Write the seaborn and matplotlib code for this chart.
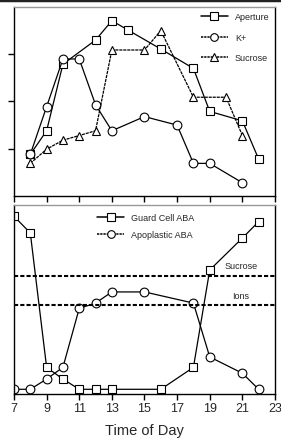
import matplotlib
matplotlib.use("Agg")
import matplotlib.pyplot as plt
import seaborn as sns
from matplotlib.lines import Line2D

# top panel data (arbitrary units)
ap_hours = [8, 9, 10, 12, 13, 14, 16, 18, 19, 21, 22]
aperture = [0.88, 1.38, 2.79, 3.30, 3.71, 3.51, 3.11, 2.70, 1.79, 1.59, 0.78]

k_hours = [8, 9, 10, 11, 12, 13, 15, 17, 18, 19, 21]
k_plus = [0.88, 1.89, 2.90, 2.90, 1.93, 1.38, 1.68, 1.50, 0.69, 0.69, 0.28]

suc_hours = [8, 9, 10, 11, 12, 13, 15, 16, 18, 20, 21]
sucrose = [0.69, 0.99, 1.18, 1.28, 1.38, 3.09, 3.09, 3.50, 2.09, 2.09, 1.28]

# bottom panel data
gc_hours = [7, 8, 9, 10, 11, 12, 13, 16, 18, 19, 21, 22]
guard_aba = [94.0, 85.2, 14.1, 7.9, 2.5, 2.5, 2.5, 2.5, 14.1, 65.6, 82.5, 91.2]

apo_hours = [7, 8, 9, 10, 11, 12, 13, 15, 18, 19, 21, 22]
apo_aba = [2.5, 2.5, 7.9, 14.1, 45.3, 48.1, 54.0, 54.0, 48.1, 19.6, 11.0, 2.5]

thresholds = {"Sucrose": 62.4, "Ions": 46.9}
xticks = [7, 9, 11, 13, 15, 17, 19, 21, 23]

sns.set_style("ticks")
plt.rcParams['font.family'] = ['Liberation Sans', 'DejaVu Sans']

fig = plt.figure(figsize=(2.81, 4.39), dpi=100)
ax1 = fig.add_axes([0.0498, 0.5513, 0.9288, 0.4305])
ax2 = fig.add_axes([0.0498, 0.1002, 0.9288, 0.4306])

mk = dict(markersize=6.3, markerfacecolor='white', markeredgecolor='black',
          markeredgewidth=0.8, color='black', linewidth=0.9)
dash_suc = (0, (2.5, 0.7))
dash_leg = (0, (1.5, 0.6))

sns.lineplot(x=ap_hours, y=aperture, ax=ax1, marker='s', **mk)
sns.lineplot(x=k_hours, y=k_plus, ax=ax1, marker='o', **mk)
sns.lineplot(x=suc_hours, y=sucrose, ax=ax1, marker='^', linestyle=dash_suc, **mk)

sns.lineplot(x=gc_hours, y=guard_aba, ax=ax2, marker='s', **mk)
sns.lineplot(x=apo_hours, y=apo_aba, ax=ax2, marker='o', **mk)

for name, val in thresholds.items():
    ax2.axhline(val, color='black', linestyle=(0, (2, 1.0)), linewidth=1.5)
    ax2.text(20.9, val + 3, name, ha='center', va='bottom', fontsize=6.5)

for ax in (ax1, ax2):
    ax.set_xlim(7, 23)
    ax.set_xticks(xticks)
    for s in ('left', 'bottom', 'right'):
        ax.spines[s].set_color('black')
        ax.spines[s].set_linewidth(1.0)
    ax.spines['top'].set_color('#999999')
    ax.spines['top'].set_linewidth(1.0)
    ax.tick_params(direction='out', length=4, width=1.0, color='black')
    ax.set_xlabel('')
    ax.set_ylabel('')

ax1.set_ylim(0, 4)
ax1.set_yticks([1, 2, 3])
ax1.set_yticklabels([])
ax1.set_xticklabels([])

ax2.set_ylim(0, 100)
ax2.set_yticks([])
ax2.set_xticklabels([str(t) for t in xticks], fontsize=9)
ax2.tick_params(axis='x', pad=2)
ax2.set_xlabel('Time of Day', fontsize=10.5, labelpad=6)

lk = dict(color='black', markerfacecolor='white', markeredgecolor='black',
          markersize=5.5, markeredgewidth=0.8, linewidth=1.1)
h1 = [Line2D([], [], marker='s', **lk),
      Line2D([], [], marker='o', linestyle=dash_leg, **lk),
      Line2D([], [], marker='^', linestyle=dash_leg, **lk)]
ax1.legend(h1, ['Aperture', 'K+', 'Sucrose'], loc='upper right', frameon=False,
           fontsize=6.5, handlelength=3.0, labelspacing=1.25,
           borderaxespad=0.2, handletextpad=0.8)
h2 = [Line2D([], [], marker='s', **lk),
      Line2D([], [], marker='o', linestyle=dash_leg, **lk)]
ax2.legend(h2, ['Guard Cell ABA', 'Apoplastic ABA'], loc='upper center',
           bbox_to_anchor=(0.505, 1.0), frameon=False, fontsize=6.5,
           handlelength=3.0, labelspacing=0.9, handletextpad=0.8)

fig.add_artist(Line2D([0, 1], [0.998, 0.998], transform=fig.transFigure,
                      color='#222222', linewidth=2.5))

fig.savefig('out.png', dpi=100)
